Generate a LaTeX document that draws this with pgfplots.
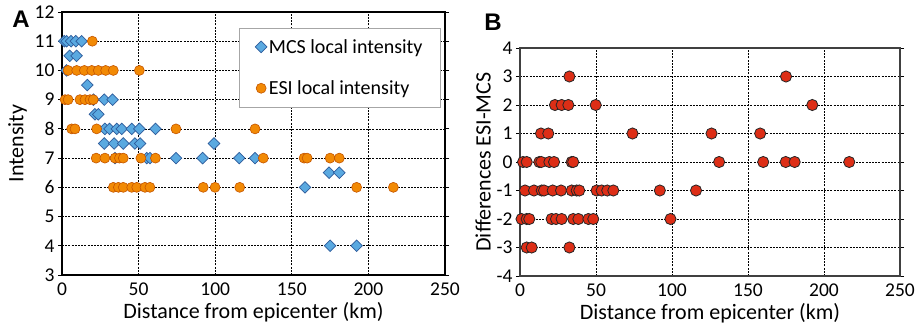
\documentclass[border=0pt]{standalone}
\usepackage{pgfplots}
\pgfplotsset{compat=1.18}
\usepackage{fontspec}
\setmainfont{Carlito}
\newfontfamily\letterfont{Liberation Sans}
\definecolor{mcsfill}{HTML}{5AA9E0}
\definecolor{mcsedge}{HTML}{2E5C9C}
\definecolor{esifill}{HTML}{F28A05}
\definecolor{esiedge}{HTML}{C45500}
\definecolor{redfill}{HTML}{DD2E16}
\definecolor{frameB}{HTML}{404040}
\begin{document}
\begin{tikzpicture}
\path[use as bounding box] (0,0) rectangle (920pt,329pt);
\pgfplotsset{
  common/.style={
    scale only axis,
    anchor=south west,
    xmin=0, xmax=250,
    xtick={0,50,100,150,200,250},
    grid=major,
    major grid style={black, line width=0.7pt, dash pattern=on 2pt off 1.2pt},
    tick align=outside,
    xtick style={draw=none},
    ytick style={black, line width=0.8pt},
    major tick length=4pt,
    tick label style={font=\fontsize{19.5}{22}\selectfont},
    label style={font=\fontsize{22}{25}\selectfont},
    /pgf/number format/assume math mode=true,
    xlabel={Distance from epicenter (km)},
  }
}
% Panel A
\begin{axis}[common,
  at={(62pt,54pt)}, width=383pt, height=263pt,
  ymin=3, ymax=12, ytick={3,4,...,12},
  ylabel={Intensity},
  ylabel style={yshift=1pt},
  axis line style={black, line width=1.4pt},
  legend style={at={(rel axis cs:0.462,0.94)}, anchor=north west,
    font=\fontsize{20}{23}\selectfont, draw=gray!70, line width=0.8pt,
    row sep=22pt, inner xsep=16pt, inner ysep=9pt},
  legend cell align=left,
]
\addplot[only marks, mark=square*, mark size=4.1pt,
  mark options={rotate=45, fill=mcsfill, draw=mcsedge, line width=0.7pt}]
coordinates {
(1.5,11)(3,11)(5.9,11)(9,11)(12.8,11)
(5,10.5)(9.5,10.5)
(3,10)
(16.5,9.5)
(20.5,9)(27.6,9)(33,9)
(21.5,8.5)(23.7,8.5)
(28,8)(31,8)(35.7,8)(39,8)(45.5,8)(50.5,8)(61,8)
(27.6,7.5)(34,7.5)(40,7.5)(47.6,7.5)(51,7.5)(99.2,7.5)
(34.6,7)(55.3,7)(57.4,7)(74.4,7)(91.8,7)(115.7,7)(126,7)
(174.3,6.5)(181,6.5)
(158.6,6)
(175,4)(192.3,4)
};
\addlegendentry{MCS local intensity}
\addplot[only marks, mark=*, mark size=5pt,
  mark options={fill=esifill, draw=esiedge, line width=0.6pt}]
coordinates {
(19.8,11)
(4,10)(9.6,10)(14.6,10)(19.4,10)(23.7,10)(28.5,10)(33.5,10)(50.5,10)
(2,9)(4,9)(11.7,9)(15,9)(18.3,9)(20.4,9)
(6.3,8)(8.5,8)(22.6,8)(74.4,8)(126,8)
(22.3,7)(28,7)(34.6,7)(37.5,7)(40,7)(51.5,7)(61,7)(131.4,7)(158,7)(160,7)(175,7)(181,7)
(33.5,6)(36.8,6)(40,6)(45.5,6)(48.8,6)(54.2,6)(57.4,6)(92.2,6)(99.9,6)(116,6)(192.3,6)(216.3,6)
};
\addlegendentry{ESI local intensity}
\end{axis}
% Panel B
\begin{axis}[common,
  at={(520pt,53pt)}, width=380pt, height=228pt,
  ymin=-4, ymax=4, ytick={-4,-3,...,4},
  ylabel={Differences ESI-MCS},
  ylabel style={yshift=-1pt},
  axis line style={frameB, line width=1.2pt},
]
\addplot[only marks, mark=*, mark size=5.6pt,
  mark options={fill=redfill, draw=black!85, line width=0.8pt}]
coordinates {
(32.5,3)(175,3)
(23,2)(27.4,2)(31.8,2)(49.8,2)(192.3,2)
(13.8,1)(18.6,1)(74,1)(126,1)(158,1)
(2,0)(4.4,0)(12.7,0)(14,0)(19.3,0)(22.4,0)(34,0)(35,0)(131,0)(160,0)(174.8,0)(180.7,0)(216.6,0)
(3.3,-1)(9.2,-1)(14.3,-1)(15.8,-1)(21.5,-1)(27,-1)(34,-1)(37.3,-1)(39,-1)(50.4,-1)(53.7,-1)(57.4,-1)(61.4,-1)(92,-1)(115.8,-1)
(1,-2)(4.4,-2)(6.1,-2)(20.8,-2)(23.7,-2)(27.4,-2)(35,-2)(38.4,-2)(45,-2)(48.2,-2)(99,-2)
(4.4,-3)(7.7,-3)(32.5,-3)
};
\end{axis}
\node[font=\letterfont\bfseries\fontsize{24}{26}\selectfont] at (21pt,310pt) {A};
\node[font=\letterfont\bfseries\fontsize{24}{26}\selectfont] at (493pt,307pt) {B};
\end{tikzpicture}
\end{document}
